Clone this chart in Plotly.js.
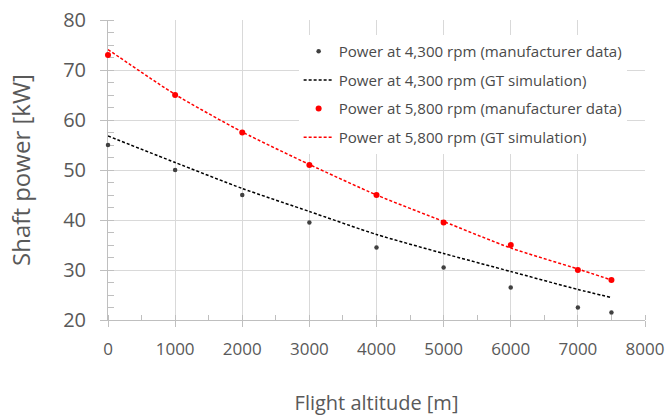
<!DOCTYPE html>
<html>
<head>
<meta charset="utf-8">
<script src="https://cdn.plot.ly/plotly-3.0.1.min.js"></script>
<style>html,body{margin:0;padding:0;background:#fff;}#chart{width:671px;height:416px;}</style>
</head>
<body>
<div id="chart"></div>
<script>
const altitude = [0, 1000, 2000, 3000, 4000, 5000, 6000, 7000, 7500];
const power4300Mfr = [55, 50, 45, 39.5, 34.5, 30.5, 26.5, 22.5, 21.5];
const power4300Sim = [56.8, 51.5, 46.3, 41.7, 37.1, 33.3, 29.7, 26.1, 24.5];
const power5800Mfr = [73, 65, 57.5, 51, 45, 39.5, 35, 30, 28];
const power5800Sim = [74.1, 65.1, 57.6, 51.1, 45, 39.7, 34.4, 30.2, 28];
const seriesNames = [
  'Power at 4,300 rpm (manufacturer data)',
  'Power at 4,300 rpm (GT simulation)',
  'Power at 5,800 rpm (manufacturer data)',
  'Power at 5,800 rpm (GT simulation)'
];
const xTitle = 'Flight altitude [m]';
const yTitle = 'Shaft power [kW]';

const FONT = 'Open Sans, sans-serif';
const grid = '#d9d9d9';
const axisCol = '#bfbfbf';
const txt = '#595959';

const traces = [
  {x: altitude, y: power4300Mfr, name: seriesNames[0], mode: 'markers', type: 'scatter',
   marker: {color: '#404040', size: 4.5}, cliponaxis: false, legendgroup: 'a'},
  {x: altitude, y: power4300Sim, name: seriesNames[1], mode: 'lines', type: 'scatter',
   line: {color: '#000000', width: 1.5, dash: '3px,2px', shape: 'spline', smoothing: 0.6}, legendgroup: 'b'},
  {x: altitude, y: power5800Mfr, name: seriesNames[2], mode: 'markers', type: 'scatter',
   marker: {color: '#ff0000', size: 6}, cliponaxis: false, legendgroup: 'c'},
  {x: altitude, y: power5800Sim, name: seriesNames[3], mode: 'lines', type: 'scatter',
   line: {color: '#ff0000', width: 1.5, dash: '3px,2px', shape: 'spline', smoothing: 0.6}, legendgroup: 'd'}
];

const layout = {
  width: 671, height: 416,
  margin: {l: 108, r: 26, t: 20, b: 96, pad: 0},
  paper_bgcolor: '#ffffff', plot_bgcolor: '#ffffff',
  font: {family: FONT, color: txt},
  showlegend: true,
  legend: {
    x: 0.355, y: 0.95, xanchor: 'left', yanchor: 'top',
    bgcolor: '#ffffff', borderwidth: 0,
    font: {family: FONT, size: 15.1, color: '#4a4a4a'},
    traceorder: 'grouped', tracegroupgap: 6
  },
  xaxis: {
    range: [0, 8000], tick0: 0, dtick: 1000,
    showgrid: true, gridcolor: grid, gridwidth: 1,
    showline: true, linecolor: axisCol, linewidth: 1,
    ticks: 'outside', ticklen: 6, tickcolor: axisCol,
    minor: {dtick: 500, ticks: 'inside', ticklen: 5, tickcolor: axisCol, showgrid: false},
    tickfont: {family: FONT, size: 17, color: txt},
    ticklabelstandoff: 8,
    zeroline: false, layer: 'below traces',
    title: {text: xTitle, font: {family: FONT, size: 20, color: txt}, standoff: 38}
  },
  yaxis: {
    range: [20, 80], tick0: 20, dtick: 10,
    showgrid: true, gridcolor: grid, gridwidth: 1,
    showline: true, linecolor: axisCol, linewidth: 1,
    ticks: 'outside', ticklen: 7, tickcolor: axisCol,
    minor: {dtick: 2.5, ticks: 'inside', ticklen: 6, tickcolor: axisCol, showgrid: false},
    tickfont: {family: FONT, size: 20, color: txt},
    ticklabelstandoff: 10,
    zeroline: false, layer: 'below traces',
    title: {text: yTitle, font: {family: FONT, size: 24, color: txt}, standoff: 25}
  }
};

Plotly.newPlot('chart', traces, layout, {displayModeBar: false, staticPlot: true});
</script>
</body>
</html>
